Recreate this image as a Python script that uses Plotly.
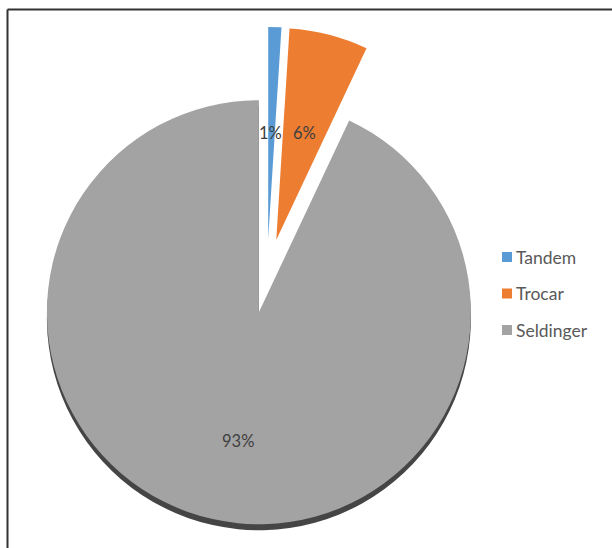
import plotly.graph_objects as go

# Data
categories = ["Tandem", "Trocar", "Seldinger"]
values = [1, 6, 93]
colors = ["#5B9BD5", "#ED7D31", "#A3A3A3"]

W, H = 612, 548


def px_x(x):
    return x / W


def px_y(y):
    return 1 - y / H


# Pie geometry (pixels)
cx, cy, r, pull = 267, 276, 212, 0.175
half = r * (1 + pull)
dom_x = [px_x(cx - half), px_x(cx + half)]
dom_y = [px_y(cy + half), px_y(cy - half)]
shadow_dy = 6 / H

total = sum(values)
pct_text = [f"{round(v / total * 100)}%" for v in values]

fig = go.Figure()

# dark rim under the large slice, slightly lower for a 3-D edge
fig.add_trace(go.Pie(
    labels=categories, values=values, sort=False, direction="clockwise",
    rotation=0, pull=[pull] * 3,
    marker=dict(colors=["rgba(0,0,0,0)", "rgba(0,0,0,0)", "#454545"],
                line=dict(width=0)),
    textinfo="none", hoverinfo="skip", showlegend=False,
    domain=dict(x=dom_x, y=[dom_y[0] - shadow_dy, dom_y[1] - shadow_dy]),
))

fig.add_trace(go.Pie(
    labels=categories, values=values, sort=False, direction="clockwise",
    rotation=0, pull=[pull] * 3,
    marker=dict(colors=colors, line=dict(width=0)),
    textinfo="none", showlegend=False,
    domain=dict(x=dom_x, y=dom_y),
))

# data labels
label_pos = [(270, 133), (304, 133), (238, 441)]
for txt, (lx, ly) in zip(pct_text, label_pos):
    fig.add_annotation(x=px_x(lx), y=px_y(ly), xref="paper", yref="paper",
                       text=txt, showarrow=False,
                       xanchor="center", yanchor="middle",
                       font=dict(family="Lato", size=16.5, color="#404040"))

# legend
leg_x, leg_y0, leg_step = 502, 257, 36.5
for i, (name, col) in enumerate(zip(categories, colors)):
    yy = leg_y0 + i * leg_step
    fig.add_shape(type="rect", xref="paper", yref="paper",
                  x0=px_x(leg_x), x1=px_x(leg_x + 10),
                  y0=px_y(yy + 5), y1=px_y(yy - 5),
                  fillcolor=col, line=dict(width=0))
    fig.add_annotation(x=px_x(leg_x + 12), y=px_y(yy), xref="paper", yref="paper",
                       text=name, showarrow=False,
                       xanchor="left", yanchor="middle",
                       font=dict(family="Lato", size=17.5, color="#595959"))

# chart frame (top and left edges)
fig.add_shape(type="line", xref="paper", yref="paper",
              x0=px_x(7.5), x1=1, y0=px_y(9.5), y1=px_y(9.5),
              line=dict(color="#333333", width=2))
fig.add_shape(type="line", xref="paper", yref="paper",
              x0=px_x(7.5), x1=px_x(7.5), y0=0, y1=px_y(9.5),
              line=dict(color="#333333", width=2))

fig.update_layout(
    width=W, height=H,
    margin=dict(l=0, r=0, t=0, b=0),
    paper_bgcolor="white", plot_bgcolor="white",
    showlegend=False,
)

fig.write_html("out.html")
